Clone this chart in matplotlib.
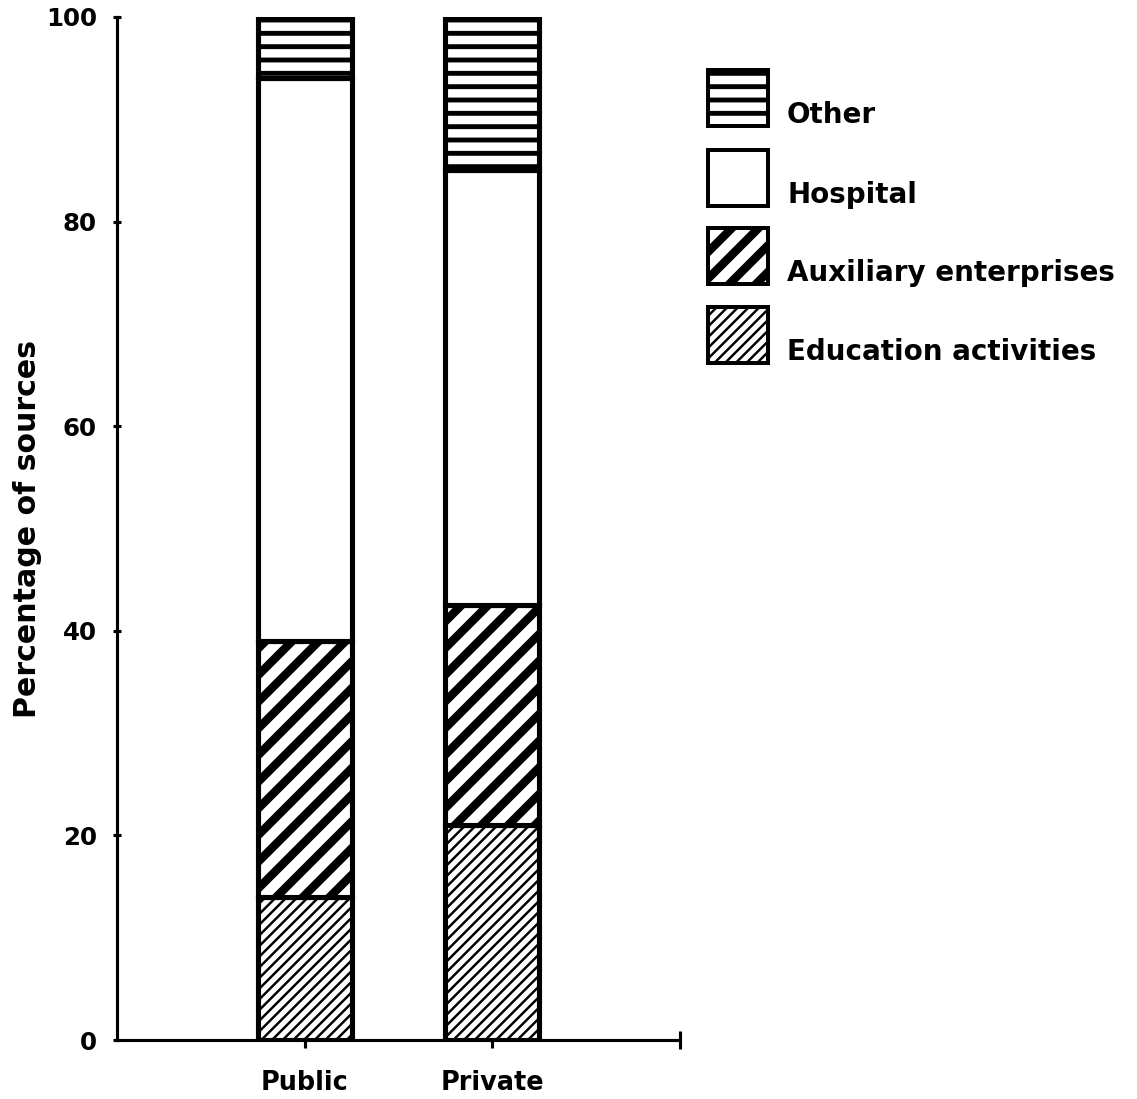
import matplotlib
matplotlib.use("Agg")
import matplotlib.pyplot as plt
from matplotlib.patches import Rectangle
import numpy as np

categories = ['Public', 'Private']
education = [14, 21]
auxiliary = [25, 21.5]
hospital = [55, 42.5]
other = [6, 15]

series_labels = ['Education activities', 'Auxiliary enterprises', 'Hospital', 'Other']
hatches = ['/////', '//', '', '--']
hatch_lws = [1.1, 3.8, 1.0, 2.2]

W, H, DPI = 1137, 1099, 160
plt.rcParams['font.family'] = 'DejaVu Sans'
plt.rcParams['font.weight'] = 'bold'


def fx(px):
    return px / W


def fy(py):
    return 1 - py / H


fig = plt.figure(figsize=(W / DPI, H / DPI), dpi=DPI)
ax = fig.add_axes([fx(117), fy(1040), fx(680 - 117), (1040 - 17) / H])

x = np.arange(1, len(categories) + 1)
series = [education, auxiliary, hospital, other]
bottom = np.zeros(len(categories))
for vals, hatch, hlw in zip(series, hatches, hatch_lws):
    with plt.rc_context({'hatch.linewidth': hlw}):
        bars = ax.bar(x, vals, width=0.5, bottom=bottom, color='white',
                      edgecolor='black', linewidth=2.3, hatch=hatch, zorder=2)
    for p in bars:
        if hasattr(p, 'set_hatch_linewidth'):
            p.set_hatch_linewidth(hlw)
    bottom += np.array(vals)

ax.set_xlim(0, 3)
ax.set_ylim(0, 100)
ax.spines['top'].set_visible(False)
ax.spines['right'].set_visible(False)
ax.spines['left'].set_linewidth(1.4)
ax.spines['bottom'].set_linewidth(1.4)

ax.set_yticks(range(0, 101, 20))
ax.tick_params(axis='y', direction='inout', length=4, width=1.4, pad=7, labelsize=11)
ax.set_xticks(x)
ax.set_xticklabels(categories)
ax.set_xticks([3], minor=True)
ax.tick_params(axis='x', which='major', direction='out', length=3.5, width=1.4, pad=10, labelsize=11.5)
ax.tick_params(axis='x', which='minor', direction='inout', length=8, width=1.4)
ax.set_ylabel('Percentage of sources', fontsize=13.5, fontweight='bold', labelpad=2)

# legend drawn by hand: box above-left of its label
legend_top = [70, 150, 228, 307]
for lab, hatch, hlw, top in zip(series_labels[::-1], hatches[::-1], hatch_lws[::-1], legend_top):
    with plt.rc_context({'hatch.linewidth': hlw}):
        r = Rectangle((fx(708), fy(top + 56)), fx(60), 56 / H, transform=fig.transFigure,
                      facecolor='white', edgecolor='black', linewidth=1.8, hatch=hatch)
    if hasattr(r, 'set_hatch_linewidth'):
        r.set_hatch_linewidth(hlw)
    fig.add_artist(r)
    fig.text(fx(787), fy(top + 53), lab, fontsize=12.5, fontweight='bold', va='baseline', ha='left')

fig.savefig('out.png', dpi=DPI)
